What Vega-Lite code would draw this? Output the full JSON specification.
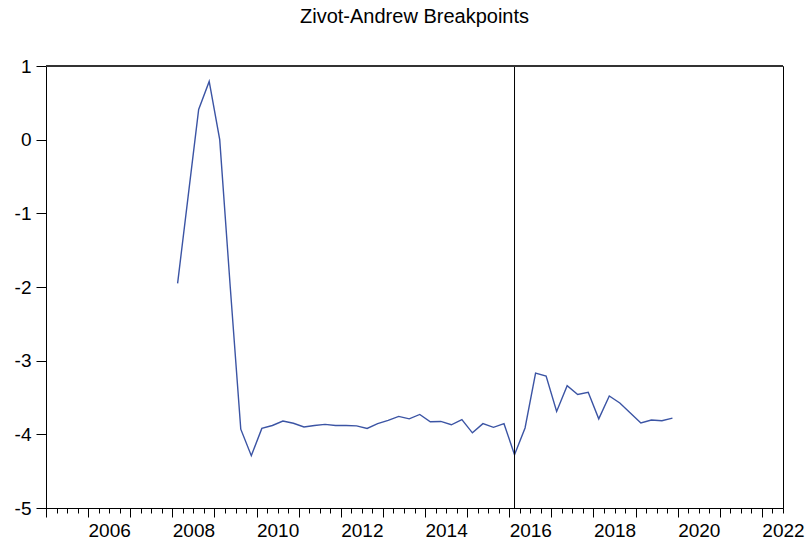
{
  "$schema": "https://vega.github.io/schema/vega-lite/v6.json",
  "width": 737,
  "height": 442,
  "autosize": {"type": "none"},
  "padding": {"left": 46, "top": 66, "right": 26, "bottom": 37},
  "background": "white",
  "title": {
    "text": "Zivot-Andrew Breakpoints",
    "font": "Liberation Sans",
    "fontSize": 20,
    "fontWeight": "normal",
    "color": "#000",
    "anchor": "middle",
    "frame": "group",
    "offset": 30
  },
  "config": {
    "view": {"stroke": "#000", "strokeWidth": 1},
    "axis": {
      "labelFont": "Liberation Sans",
      "labelFontSize": 19,
      "labelColor": "#000",
      "tickColor": "#000",
      "domainColor": "#000",
      "grid": false,
      "title": null
    }
  },
  "datasets": {
    "za": [
      {"period": "2008Q1", "t": 2008.125, "stat": -1.95},
      {"period": "2008Q2", "t": 2008.375, "stat": -0.77},
      {"period": "2008Q3", "t": 2008.625, "stat": 0.41},
      {"period": "2008Q4", "t": 2008.875, "stat": 0.79},
      {"period": "2009Q1", "t": 2009.125, "stat": 0.0},
      {"period": "2009Q2", "t": 2009.375, "stat": -2.0},
      {"period": "2009Q3", "t": 2009.625, "stat": -3.93},
      {"period": "2009Q4", "t": 2009.875, "stat": -4.29},
      {"period": "2010Q1", "t": 2010.125, "stat": -3.92},
      {"period": "2010Q2", "t": 2010.375, "stat": -3.88},
      {"period": "2010Q3", "t": 2010.625, "stat": -3.82},
      {"period": "2010Q4", "t": 2010.875, "stat": -3.85},
      {"period": "2011Q1", "t": 2011.125, "stat": -3.9},
      {"period": "2011Q2", "t": 2011.375, "stat": -3.88},
      {"period": "2011Q3", "t": 2011.625, "stat": -3.865},
      {"period": "2011Q4", "t": 2011.875, "stat": -3.88},
      {"period": "2012Q1", "t": 2012.125, "stat": -3.88},
      {"period": "2012Q2", "t": 2012.375, "stat": -3.885},
      {"period": "2012Q3", "t": 2012.625, "stat": -3.92},
      {"period": "2012Q4", "t": 2012.875, "stat": -3.855},
      {"period": "2013Q1", "t": 2013.125, "stat": -3.81},
      {"period": "2013Q2", "t": 2013.375, "stat": -3.756},
      {"period": "2013Q3", "t": 2013.625, "stat": -3.79},
      {"period": "2013Q4", "t": 2013.875, "stat": -3.73},
      {"period": "2014Q1", "t": 2014.125, "stat": -3.83},
      {"period": "2014Q2", "t": 2014.375, "stat": -3.825},
      {"period": "2014Q3", "t": 2014.625, "stat": -3.87},
      {"period": "2014Q4", "t": 2014.875, "stat": -3.8},
      {"period": "2015Q1", "t": 2015.125, "stat": -3.98},
      {"period": "2015Q2", "t": 2015.375, "stat": -3.855},
      {"period": "2015Q3", "t": 2015.625, "stat": -3.905},
      {"period": "2015Q4", "t": 2015.875, "stat": -3.855},
      {"period": "2016Q1", "t": 2016.125, "stat": -4.277},
      {"period": "2016Q2", "t": 2016.375, "stat": -3.914},
      {"period": "2016Q3", "t": 2016.625, "stat": -3.17},
      {"period": "2016Q4", "t": 2016.875, "stat": -3.21},
      {"period": "2017Q1", "t": 2017.125, "stat": -3.69},
      {"period": "2017Q2", "t": 2017.375, "stat": -3.34},
      {"period": "2017Q3", "t": 2017.625, "stat": -3.46},
      {"period": "2017Q4", "t": 2017.875, "stat": -3.43},
      {"period": "2018Q1", "t": 2018.125, "stat": -3.79},
      {"period": "2018Q2", "t": 2018.375, "stat": -3.48},
      {"period": "2018Q3", "t": 2018.625, "stat": -3.575},
      {"period": "2018Q4", "t": 2018.875, "stat": -3.71},
      {"period": "2019Q1", "t": 2019.125, "stat": -3.846},
      {"period": "2019Q2", "t": 2019.375, "stat": -3.805},
      {"period": "2019Q3", "t": 2019.625, "stat": -3.815},
      {"period": "2019Q4", "t": 2019.875, "stat": -3.78}
    ],
    "breaks": [
      {"period": "2016Q1", "t": 2016.125}
    ]
  },
  "resolve": {"axis": {"x": "independent"}},
  "layer": [
    {
      "data": {"name": "za"},
      "mark": {"type": "point", "opacity": 0},
      "encoding": {
        "x": {
          "field": "t",
          "type": "quantitative",
          "scale": {"domain": [2005, 2022.5], "nice": false, "zero": false},
          "axis": {
            "orient": "bottom",
            "values": [2005, 2005.25, 2005.5, 2005.75, 2006, 2006.25, 2006.5, 2006.75, 2007, 2007.25, 2007.5, 2007.75, 2008, 2008.25, 2008.5, 2008.75, 2009, 2009.25, 2009.5, 2009.75, 2010, 2010.25, 2010.5, 2010.75, 2011, 2011.25, 2011.5, 2011.75, 2012, 2012.25, 2012.5, 2012.75, 2013, 2013.25, 2013.5, 2013.75, 2014, 2014.25, 2014.5, 2014.75, 2015, 2015.25, 2015.5, 2015.75, 2016, 2016.25, 2016.5, 2016.75, 2017, 2017.25, 2017.5, 2017.75, 2018, 2018.25, 2018.5, 2018.75, 2019, 2019.25, 2019.5, 2019.75, 2020, 2020.25, 2020.5, 2020.75, 2021, 2021.25, 2021.5, 2021.75, 2022, 2022.25, 2022.5],
            "tickSize": 5,
            "labels": false,
            "domain": true
          }
        },
        "y": {
          "field": "stat",
          "type": "quantitative",
          "scale": {"domain": [-5, 1], "nice": false, "zero": false},
          "axis": {
            "values": [-5, -4, -3, -2, -1, 0, 1],
            "labelExpr": "'' + datum.value",
            "tickSize": 10,
            "labelPadding": 5,
            "labelOverlap": false,
            "labelFlush": false,
            "labelBound": false
          }
        }
      }
    },
    {
      "data": {"name": "za"},
      "mark": {"type": "line", "color": "#3B54A4", "strokeWidth": 1.4, "clip": true},
      "encoding": {
        "x": {
          "field": "t",
          "type": "quantitative",
          "axis": {
            "orient": "bottom",
            "values": [2006.5, 2008.5, 2010.5, 2012.5, 2014.5, 2016.5, 2018.5, 2020.5, 2022.5],
            "labelExpr": "'' + floor(datum.value)",
            "ticks": false,
            "domain": false,
            "labelOverlap": false,
            "labelFlush": false,
            "labelBound": false,
            "labelPadding": 13,
            "labelBaseline": "top"
          }
        },
        "y": {"field": "stat", "type": "quantitative"}
      }
    },
    {
      "data": {"name": "breaks"},
      "mark": {"type": "rule", "color": "#000", "strokeWidth": 1},
      "encoding": {
        "x": {
          "field": "t",
          "type": "quantitative",
          "axis": {
            "orient": "bottom",
            "values": [2005, 2006, 2007, 2008, 2009, 2010, 2011, 2012, 2013, 2014, 2015, 2016, 2017, 2018, 2019, 2020, 2021, 2022],
            "tickSize": 9,
            "labels": false,
            "domain": false
          }
        }
      }
    },
    {
      "data": {"values": [{"top": 1}]},
      "mark": {"type": "rule", "color": "#333", "strokeWidth": 2},
      "encoding": {
        "y": {"field": "top", "type": "quantitative"}
      }
    }
  ]
}
